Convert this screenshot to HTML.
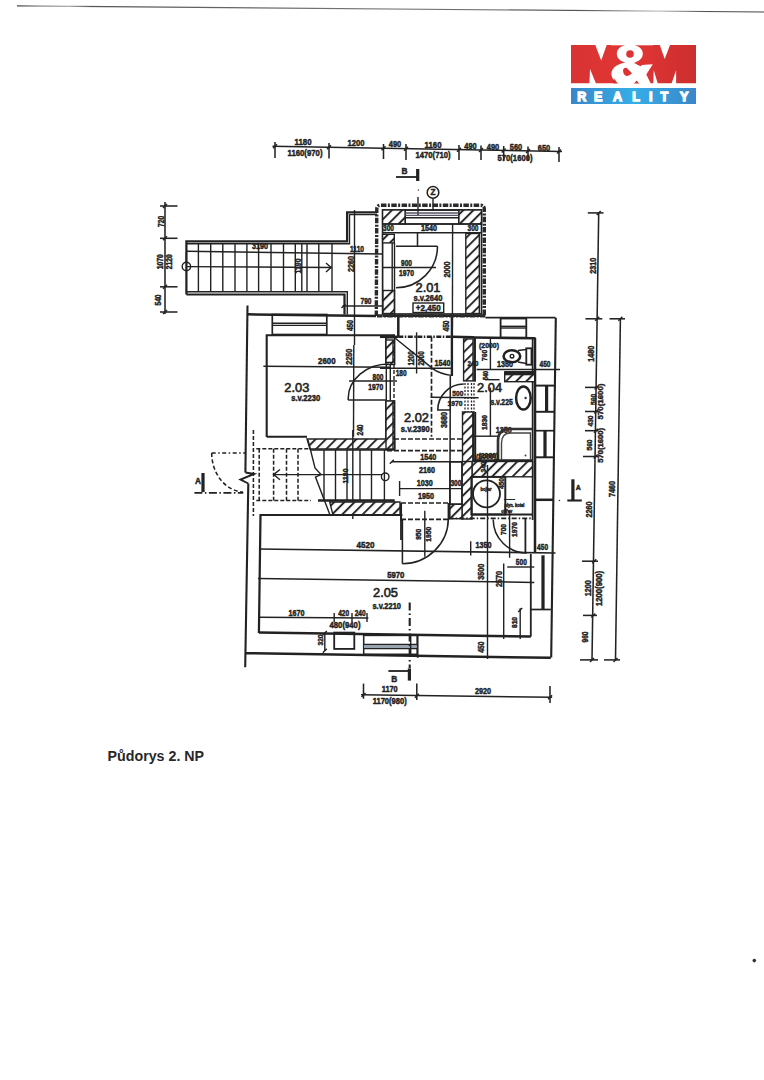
<!DOCTYPE html>
<html><head><meta charset="utf-8"><title>Půdorys 2. NP</title>
<style>
html,body{margin:0;padding:0;background:#fff;}
body{width:764px;height:1080px;overflow:hidden;position:relative;font-family:"Liberation Sans",sans-serif;}
svg{position:absolute;left:0;top:0;}
</style></head><body>
<svg width="764" height="1080" viewBox="0 0 764 1080">
<defs>
<pattern id="hatch" patternUnits="userSpaceOnUse" width="7.2" height="7.2" patternTransform="rotate(45)">
<rect width="7.2" height="7.2" fill="#fff"/>
<line x1="1" y1="0" x2="1" y2="7.2" stroke="#222" stroke-width="1.9"/>
</pattern>
<linearGradient id="red" x1="0" x2="1" y1="0" y2="0"><stop offset="0" stop-color="#d93333"/><stop offset="0.5" stop-color="#e23535"/><stop offset="1" stop-color="#cc2e2e"/></linearGradient>
<linearGradient id="blue" x1="0" x2="1" y1="0" y2="0"><stop offset="0" stop-color="#3a86c8"/><stop offset="0.5" stop-color="#35aee8"/><stop offset="1" stop-color="#3a86c8"/></linearGradient>
<linearGradient id="topline" gradientUnits="userSpaceOnUse" x1="17" y1="0" x2="764" y2="0"><stop offset="0" stop-color="#444"/><stop offset="0.03" stop-color="#888"/><stop offset="0.07" stop-color="#aaa"/><stop offset="0.1" stop-color="#555"/><stop offset="0.3" stop-color="#666"/><stop offset="0.5" stop-color="#777"/><stop offset="0.75" stop-color="#555"/><stop offset="0.86" stop-color="#bbb"/><stop offset="0.92" stop-color="#555"/><stop offset="1" stop-color="#444"/></linearGradient>
</defs>
<line x1="17" y1="5.9" x2="764" y2="12" stroke="url(#topline)" stroke-width="1.1"/>
<circle cx="754.3" cy="960.6" r="1.8" fill="#333" stroke="#222" stroke-width="0.00"/>
<text x="107.6" y="761" font-size="14" font-weight="bold" fill="#282828" textLength="96.5" lengthAdjust="spacingAndGlyphs" font-family="Liberation Sans">Půdorys 2. NP</text>
<rect x="571" y="45" width="125" height="38.5" fill="url(#red)"/>
<polygon points="595.1,44.5 606.9,44.5 601.2,60.5" fill="#fff"/>
<polygon points="589.4,84 590,69 596.2,84" fill="#fff"/>
<polygon points="659.6,44.5 670.2,44.5 664.7,58.9" fill="#fff"/>
<polygon points="653.3,84 653.7,70 657.9,84" fill="#fff"/>
<polygon points="671.4,84 676.1,70.2 676.1,84" fill="#fff"/>
<ellipse cx="629.8" cy="53.8" rx="13" ry="9.6" fill="#fff"/>
<ellipse cx="628.2" cy="74" rx="16.8" ry="11.5" fill="#fff"/>
<polygon points="634,65.5 652.8,64.3 646.3,74.4 651,84 637,84" fill="#fff"/>
<rect x="611" y="44.5" width="42" height="0.8" fill="#fff"/>
<circle cx="630" cy="54" r="3.8" fill="#dd3333"/>
<path d="M623,70 Q623.5,67.5 626.5,67.8 L632,73.3 Q629,76.5 626.5,76 Q623,75 623,70 Z" fill="#dd3333"/>
<polygon points="636.9,64.6 642.3,59.8 645.5,61.5 640.6,66.3" fill="#dd3333"/>
<polygon points="633.3,84.5 636.6,80.6 640,84.5" fill="#d83030"/>
<polygon points="612.8,84.5 614.3,78.8 618.3,84.5" fill="#d83030"/>
<rect x="570" y="83.5" width="128" height="4" fill="#fff"/>
<rect x="571" y="88" width="125" height="16" fill="url(#blue)"/>
<text x="581.7" y="101" font-size="12.5" font-weight="bold" text-anchor="middle" fill="#fff" stroke="#fff" stroke-width="1.3" font-family="Liberation Sans">R</text>
<text x="598.2" y="101" font-size="12.5" font-weight="bold" text-anchor="middle" fill="#fff" stroke="#fff" stroke-width="1.3" font-family="Liberation Sans">E</text>
<text x="617.6" y="101" font-size="12.5" font-weight="bold" text-anchor="middle" fill="#fff" stroke="#fff" stroke-width="1.3" font-family="Liberation Sans">A</text>
<text x="636" y="101" font-size="12.5" font-weight="bold" text-anchor="middle" fill="#fff" stroke="#fff" stroke-width="1.3" font-family="Liberation Sans">L</text>
<text x="650.7" y="101" font-size="12.5" font-weight="bold" text-anchor="middle" fill="#fff" stroke="#fff" stroke-width="1.3" font-family="Liberation Sans">I</text>
<text x="664.3" y="101" font-size="12.5" font-weight="bold" text-anchor="middle" fill="#fff" stroke="#fff" stroke-width="1.3" font-family="Liberation Sans">T</text>
<text x="684.2" y="101" font-size="12.5" font-weight="bold" text-anchor="middle" fill="#fff" stroke="#fff" stroke-width="1.3" font-family="Liberation Sans">Y</text>
<line x1="272.5" y1="146.3" x2="562" y2="151.5" stroke="#222" stroke-width="1.54"/>
<line x1="275" y1="142" x2="275" y2="158" stroke="#222" stroke-width="1.54"/>
<line x1="329" y1="143" x2="329" y2="158.5" stroke="#222" stroke-width="1.54"/>
<line x1="383.5" y1="144" x2="383.5" y2="159" stroke="#222" stroke-width="1.54"/>
<line x1="406" y1="144" x2="406" y2="160" stroke="#222" stroke-width="1.54"/>
<line x1="459" y1="145" x2="459" y2="160" stroke="#222" stroke-width="1.54"/>
<line x1="481" y1="145.5" x2="481" y2="160" stroke="#222" stroke-width="1.54"/>
<line x1="503.7" y1="146" x2="503.7" y2="161" stroke="#222" stroke-width="1.54"/>
<line x1="528" y1="146.5" x2="528" y2="161" stroke="#222" stroke-width="1.54"/>
<line x1="559" y1="147" x2="559" y2="162" stroke="#222" stroke-width="1.54"/>
<line x1="273.0" y1="148.3" x2="277.0" y2="144.3" stroke="#222" stroke-width="1.40"/>
<line x1="327.0" y1="149.3" x2="331.0" y2="145.3" stroke="#222" stroke-width="1.40"/>
<line x1="381.5" y1="150.3" x2="385.5" y2="146.3" stroke="#222" stroke-width="1.40"/>
<line x1="404.0" y1="150.7" x2="408.0" y2="146.7" stroke="#222" stroke-width="1.40"/>
<line x1="457.0" y1="151.7" x2="461.0" y2="147.7" stroke="#222" stroke-width="1.40"/>
<line x1="479.0" y1="152.1" x2="483.0" y2="148.1" stroke="#222" stroke-width="1.40"/>
<line x1="501.7" y1="152.5" x2="505.7" y2="148.5" stroke="#222" stroke-width="1.40"/>
<line x1="526.0" y1="152.9" x2="530.0" y2="148.9" stroke="#222" stroke-width="1.40"/>
<line x1="557.0" y1="153.4" x2="561.0" y2="149.4" stroke="#222" stroke-width="1.40"/>
<text x="303" y="144.8" font-size="8.8" font-weight="bold" text-anchor="middle" fill="#222" stroke="#222" stroke-width="0.45" font-family="Liberation Sans" textLength="17" lengthAdjust="spacingAndGlyphs">1180</text>
<text x="305" y="155.8" font-size="8.8" font-weight="bold" text-anchor="middle" fill="#222" stroke="#222" stroke-width="0.45" font-family="Liberation Sans" textLength="35" lengthAdjust="spacingAndGlyphs">1160(970)</text>
<text x="356" y="145.7" font-size="8.8" font-weight="bold" text-anchor="middle" fill="#222" stroke="#222" stroke-width="0.45" font-family="Liberation Sans" textLength="17" lengthAdjust="spacingAndGlyphs">1200</text>
<text x="395" y="147" font-size="8.8" font-weight="bold" text-anchor="middle" fill="#222" stroke="#222" stroke-width="0.45" font-family="Liberation Sans" textLength="12.5" lengthAdjust="spacingAndGlyphs">490</text>
<text x="433" y="148" font-size="8.8" font-weight="bold" text-anchor="middle" fill="#222" stroke="#222" stroke-width="0.45" font-family="Liberation Sans" textLength="17" lengthAdjust="spacingAndGlyphs">1160</text>
<text x="433" y="158" font-size="8.8" font-weight="bold" text-anchor="middle" fill="#222" stroke="#222" stroke-width="0.45" font-family="Liberation Sans" textLength="35" lengthAdjust="spacingAndGlyphs">1470(710)</text>
<text x="470.5" y="149" font-size="8.8" font-weight="bold" text-anchor="middle" fill="#222" stroke="#222" stroke-width="0.45" font-family="Liberation Sans" textLength="12.5" lengthAdjust="spacingAndGlyphs">490</text>
<text x="493" y="149.5" font-size="8.8" font-weight="bold" text-anchor="middle" fill="#222" stroke="#222" stroke-width="0.45" font-family="Liberation Sans" textLength="12.5" lengthAdjust="spacingAndGlyphs">490</text>
<text x="516" y="150" font-size="8.8" font-weight="bold" text-anchor="middle" fill="#222" stroke="#222" stroke-width="0.45" font-family="Liberation Sans" textLength="12.5" lengthAdjust="spacingAndGlyphs">560</text>
<text x="544" y="150.5" font-size="8.8" font-weight="bold" text-anchor="middle" fill="#222" stroke="#222" stroke-width="0.45" font-family="Liberation Sans" textLength="12.5" lengthAdjust="spacingAndGlyphs">650</text>
<text x="515" y="161" font-size="8.8" font-weight="bold" text-anchor="middle" fill="#222" stroke="#222" stroke-width="0.45" font-family="Liberation Sans" textLength="35" lengthAdjust="spacingAndGlyphs">570(1600)</text>
<text x="404.5" y="174" font-size="9.3" font-weight="bold" text-anchor="middle" fill="#222" stroke="#222" stroke-width="0.45" font-family="Liberation Sans" textLength="6" lengthAdjust="spacingAndGlyphs">B</text>
<line x1="396" y1="177" x2="417.5" y2="177" stroke="#222" stroke-width="1.82"/>
<line x1="417.7" y1="169" x2="417.7" y2="181" stroke="#222" stroke-width="3.22"/>
<circle cx="433" cy="192.4" r="5.8" fill="none" stroke="#222" stroke-width="1.54"/>
<text x="433" y="195.3" font-size="8.3" font-weight="bold" text-anchor="middle" fill="#222" stroke="#222" stroke-width="0.45" font-family="Liberation Sans" textLength="5" lengthAdjust="spacingAndGlyphs">Z</text>
<line x1="433" y1="198.2" x2="433" y2="211" stroke="#222" stroke-width="1.40"/>
<circle cx="418.4" cy="190" r="0.7" fill="#333" stroke="#222" stroke-width="0.00"/>
<line x1="418" y1="197" x2="418" y2="215" stroke="#222" stroke-width="1.40"/>
<path d="M376.3,316 L376.8,209 Q376.8,205.2 381,205.2 L480.3,205.2 Q484.3,205.2 484.3,209 L484.3,316" fill="none" stroke="#2a2a2a" stroke-width="3.4" stroke-dasharray="5.5 1.4 2 1.4"/>
<rect x="382.6" y="210" width="98.9" height="104" fill="none" stroke="#222" stroke-width="1.68"/>
<rect x="382.6" y="210" width="22.7" height="14" fill="url(#hatch)" stroke="#222" stroke-width="1.40"/>
<rect x="458.7" y="210" width="22.8" height="14" fill="url(#hatch)" stroke="#222" stroke-width="1.40"/>
<rect x="405.3" y="210" width="53.4" height="14" fill="none" stroke="#222" stroke-width="1.40"/>
<line x1="405.3" y1="213" x2="458.7" y2="213" stroke="#556" stroke-width="1.40"/>
<line x1="405.3" y1="215.4" x2="458.7" y2="215.4" stroke="#556" stroke-width="1.40"/>
<line x1="405.3" y1="217.8" x2="458.7" y2="217.8" stroke="#222" stroke-width="1.40"/>
<line x1="382.6" y1="224" x2="481.5" y2="224" stroke="#222" stroke-width="1.54"/>
<line x1="382.6" y1="232.7" x2="481.5" y2="232.7" stroke="#222" stroke-width="1.40"/>
<text x="388.5" y="231" font-size="8.3" font-weight="bold" text-anchor="middle" fill="#222" stroke="#222" stroke-width="0.45" font-family="Liberation Sans" textLength="11" lengthAdjust="spacingAndGlyphs">300</text>
<text x="429" y="231" font-size="8.3" font-weight="bold" text-anchor="middle" fill="#222" stroke="#222" stroke-width="0.45" font-family="Liberation Sans" textLength="16" lengthAdjust="spacingAndGlyphs">1540</text>
<text x="473" y="231" font-size="8.3" font-weight="bold" text-anchor="middle" fill="#222" stroke="#222" stroke-width="0.45" font-family="Liberation Sans" textLength="11" lengthAdjust="spacingAndGlyphs">300</text>
<rect x="465.8" y="233.5" width="13.5" height="80" fill="url(#hatch)" stroke="#222" stroke-width="1.40"/>
<rect x="382.6" y="234.3" width="11.7" height="8.6" fill="url(#hatch)" stroke="#222" stroke-width="1.40"/>
<rect x="383" y="290.5" width="11.5" height="23" fill="url(#hatch)" stroke="#222" stroke-width="1.40"/>
<line x1="394.5" y1="242.9" x2="394.5" y2="313.6" stroke="#222" stroke-width="1.40"/>
<line x1="392.2" y1="242.9" x2="392.2" y2="290.5" stroke="#222" stroke-width="1.40"/>
<line x1="417.5" y1="232.7" x2="417.5" y2="246" stroke="#222" stroke-width="1.54"/>
<line x1="396" y1="246.3" x2="437.5" y2="246.3" stroke="#222" stroke-width="1.54"/>
<path d="M437.5,246.3 A41.5,41.5 0 0 1 396,287.8" fill="none" stroke="#222" stroke-width="1.54"/>
<line x1="382.6" y1="267.5" x2="436" y2="267.5" stroke="#222" stroke-width="1.40"/>
<text x="406.5" y="265.5" font-size="8.3" font-weight="bold" text-anchor="middle" fill="#222" stroke="#222" stroke-width="0.45" font-family="Liberation Sans" textLength="11" lengthAdjust="spacingAndGlyphs">900</text>
<text x="406.5" y="275.5" font-size="8.3" font-weight="bold" text-anchor="middle" fill="#222" stroke="#222" stroke-width="0.45" font-family="Liberation Sans" textLength="15" lengthAdjust="spacingAndGlyphs">1970</text>
<line x1="452.6" y1="224" x2="452.4" y2="330" stroke="#222" stroke-width="1.40"/>
<text x="0" y="0" font-size="8.3" font-weight="bold" text-anchor="middle" dominant-baseline="central" fill="#222" stroke="#222" stroke-width="0.45" font-family="Liberation Sans" textLength="16" lengthAdjust="spacingAndGlyphs" transform="translate(446.8 269.6) rotate(-90)">2000</text>
<text x="428" y="291.5" font-size="12.8" font-weight="normal" text-anchor="middle" fill="#222" stroke="#222" stroke-width="0.6" font-family="Liberation Sans" textLength="25" lengthAdjust="spacingAndGlyphs">2.01</text>
<text x="428" y="300.5" font-size="8.3" font-weight="bold" text-anchor="middle" fill="#222" stroke="#222" stroke-width="0.45" font-family="Liberation Sans" textLength="29" lengthAdjust="spacingAndGlyphs">s.v.2640</text>
<rect x="413" y="303" width="30.7" height="9.5" fill="none" stroke="#222" stroke-width="1.40"/>
<text x="428.3" y="311" font-size="8.8" font-weight="bold" text-anchor="middle" fill="#222" stroke="#222" stroke-width="0.45" font-family="Liberation Sans" textLength="25" lengthAdjust="spacingAndGlyphs">+2,450</text>
<line x1="165" y1="202" x2="165" y2="314" stroke="#222" stroke-width="1.54"/>
<line x1="160" y1="206" x2="177.5" y2="206" stroke="#222" stroke-width="1.54"/>
<line x1="163.0" y1="208.0" x2="167.0" y2="204.0" stroke="#222" stroke-width="1.40"/>
<line x1="160" y1="238.3" x2="177.5" y2="238.3" stroke="#222" stroke-width="1.54"/>
<line x1="163.0" y1="240.3" x2="167.0" y2="236.3" stroke="#222" stroke-width="1.40"/>
<line x1="160" y1="286.8" x2="177.5" y2="286.8" stroke="#222" stroke-width="1.54"/>
<line x1="163.0" y1="288.8" x2="167.0" y2="284.8" stroke="#222" stroke-width="1.40"/>
<line x1="160" y1="312" x2="177.5" y2="312" stroke="#222" stroke-width="1.54"/>
<line x1="163.0" y1="314.0" x2="167.0" y2="310.0" stroke="#222" stroke-width="1.40"/>
<text x="0" y="0" font-size="8.3" font-weight="bold" text-anchor="middle" dominant-baseline="central" fill="#222" stroke="#222" stroke-width="0.45" font-family="Liberation Sans" textLength="11" lengthAdjust="spacingAndGlyphs" transform="translate(160.5 221.4) rotate(-90)">720</text>
<text x="0" y="0" font-size="8.3" font-weight="bold" text-anchor="middle" dominant-baseline="central" fill="#222" stroke="#222" stroke-width="0.45" font-family="Liberation Sans" textLength="15" lengthAdjust="spacingAndGlyphs" transform="translate(160.2 261.8) rotate(-90)">1070</text>
<text x="0" y="0" font-size="8.3" font-weight="bold" text-anchor="middle" dominant-baseline="central" fill="#222" stroke="#222" stroke-width="0.45" font-family="Liberation Sans" textLength="15" lengthAdjust="spacingAndGlyphs" transform="translate(169 261.8) rotate(-90)">2120</text>
<text x="0" y="0" font-size="8.3" font-weight="bold" text-anchor="middle" dominant-baseline="central" fill="#222" stroke="#222" stroke-width="0.45" font-family="Liberation Sans" textLength="11" lengthAdjust="spacingAndGlyphs" transform="translate(158 300) rotate(-90)">540</text>
<polyline points="186.4,294.5 186.4,241.3 347.1,241.3 347.1,212.3 377,212.3" fill="none" stroke="#222" stroke-width="2.24"/>
<polyline points="186.4,243.7 349.5,243.7 349.5,214.6 377,214.6" fill="none" stroke="#222" stroke-width="1.40"/>
<polyline points="186.4,294.5 344.5,294.5 344.5,314.5" fill="none" stroke="#222" stroke-width="2.24"/>
<polyline points="186.4,291.8 347.3,291.8 347.3,314.5" fill="none" stroke="#222" stroke-width="1.40"/>
<line x1="186.4" y1="251.3" x2="382.6" y2="254" stroke="#222" stroke-width="1.40"/>
<line x1="198.4" y1="243.7" x2="198.4" y2="291.8" stroke="#222" stroke-width="1.40"/>
<line x1="210.7" y1="243.7" x2="210.7" y2="291.8" stroke="#222" stroke-width="1.40"/>
<line x1="222.8" y1="243.7" x2="222.8" y2="291.8" stroke="#222" stroke-width="1.40"/>
<line x1="235" y1="243.7" x2="235" y2="291.8" stroke="#222" stroke-width="1.40"/>
<line x1="246.9" y1="243.7" x2="246.9" y2="291.8" stroke="#222" stroke-width="1.40"/>
<line x1="258.6" y1="243.7" x2="258.6" y2="291.8" stroke="#222" stroke-width="1.40"/>
<line x1="271" y1="243.7" x2="271" y2="291.8" stroke="#222" stroke-width="1.40"/>
<line x1="283.5" y1="243.7" x2="283.5" y2="291.8" stroke="#222" stroke-width="1.40"/>
<line x1="295.3" y1="243.7" x2="295.3" y2="291.8" stroke="#222" stroke-width="1.40"/>
<line x1="301.8" y1="243.7" x2="301.8" y2="291.8" stroke="#222" stroke-width="1.40"/>
<line x1="307" y1="243.7" x2="307" y2="291.8" stroke="#222" stroke-width="1.40"/>
<line x1="318.8" y1="243.7" x2="318.8" y2="291.8" stroke="#222" stroke-width="1.40"/>
<line x1="332" y1="243.7" x2="332" y2="291.8" stroke="#222" stroke-width="1.40"/>
<line x1="186.4" y1="266.6" x2="332" y2="267.5" stroke="#222" stroke-width="1.40"/>
<polyline points="326,263 331,267.5 326,272" fill="none" stroke="#222" stroke-width="1.40"/>
<circle cx="186.4" cy="266.5" r="4.2" fill="none" stroke="#222" stroke-width="1.40"/>
<line x1="186.4" y1="252" x2="186.4" y2="262" stroke="#222" stroke-width="1.40"/>
<text x="260" y="249" font-size="8.3" font-weight="bold" text-anchor="middle" fill="#222" stroke="#222" stroke-width="0.45" font-family="Liberation Sans" textLength="16" lengthAdjust="spacingAndGlyphs">3190</text>
<text x="0" y="0" font-size="8.3" font-weight="bold" text-anchor="middle" dominant-baseline="central" fill="#222" stroke="#222" stroke-width="0.45" font-family="Liberation Sans" textLength="15" lengthAdjust="spacingAndGlyphs" transform="translate(298 266) rotate(-90)">1190</text>
<line x1="354.5" y1="210" x2="354.5" y2="345" stroke="#222" stroke-width="1.40"/>
<text x="0" y="0" font-size="8.3" font-weight="bold" text-anchor="middle" dominant-baseline="central" fill="#222" stroke="#222" stroke-width="0.45" font-family="Liberation Sans" textLength="16" lengthAdjust="spacingAndGlyphs" transform="translate(351 264) rotate(-90)">2260</text>
<text x="357" y="252.3" font-size="8.3" font-weight="bold" text-anchor="middle" fill="#222" stroke="#222" stroke-width="0.45" font-family="Liberation Sans" textLength="14" lengthAdjust="spacingAndGlyphs">1110</text>
<line x1="342.6" y1="306" x2="382.6" y2="306" stroke="#222" stroke-width="1.40"/>
<text x="366" y="304" font-size="8.3" font-weight="bold" text-anchor="middle" fill="#222" stroke="#222" stroke-width="0.45" font-family="Liberation Sans" textLength="11" lengthAdjust="spacingAndGlyphs">790</text>
<line x1="341.5" y1="308.0" x2="345.5" y2="304.0" stroke="#222" stroke-width="1.40"/>
<line x1="247.5" y1="305.6" x2="245.4" y2="472.5" stroke="#222" stroke-width="2.10"/>
<line x1="248.3" y1="483.5" x2="245.2" y2="667.2" stroke="#222" stroke-width="2.10"/>
<line x1="247.4" y1="314.3" x2="376" y2="316" stroke="#222" stroke-width="2.52"/>
<rect x="272.3" y="314.5" width="54.5" height="20" fill="none" stroke="#222" stroke-width="1.68"/>
<line x1="272.8" y1="323.3" x2="326.8" y2="323.3" stroke="#222" stroke-width="1.40"/>
<line x1="272.8" y1="325.4" x2="326.8" y2="325.4" stroke="#222" stroke-width="1.40"/>
<polyline points="266.7,437 266.7,335.2 395,335.2" fill="none" stroke="#222" stroke-width="2.10"/>
<line x1="266.7" y1="436.8" x2="307" y2="436.8" stroke="#222" stroke-width="2.10"/>
<line x1="353.8" y1="345" x2="353.5" y2="436.8" stroke="#222" stroke-width="1.40"/>
<line x1="263.4" y1="366.3" x2="390" y2="367.3" stroke="#222" stroke-width="1.40"/>
<text x="326.8" y="364.2" font-size="8.3" font-weight="bold" text-anchor="middle" fill="#222" stroke="#222" stroke-width="0.45" font-family="Liberation Sans" textLength="17.5" lengthAdjust="spacingAndGlyphs">2600</text>
<text x="0" y="0" font-size="8.3" font-weight="bold" text-anchor="middle" dominant-baseline="central" fill="#222" stroke="#222" stroke-width="0.45" font-family="Liberation Sans" textLength="11" lengthAdjust="spacingAndGlyphs" transform="translate(350 325.6) rotate(-90)">450</text>
<text x="0" y="0" font-size="8.3" font-weight="bold" text-anchor="middle" dominant-baseline="central" fill="#222" stroke="#222" stroke-width="0.45" font-family="Liberation Sans" textLength="16" lengthAdjust="spacingAndGlyphs" transform="translate(349 356.7) rotate(-90)">2250</text>
<text x="0" y="0" font-size="8.3" font-weight="bold" text-anchor="middle" dominant-baseline="central" fill="#222" stroke="#222" stroke-width="0.45" font-family="Liberation Sans" textLength="11" lengthAdjust="spacingAndGlyphs" transform="translate(359.5 430) rotate(-90)">240</text>
<rect x="385.8" y="337.8" width="8.9" height="26.7" fill="url(#hatch)" stroke="#222" stroke-width="1.40"/>
<rect x="385.8" y="401" width="8.9" height="48" fill="url(#hatch)" stroke="#222" stroke-width="1.40"/>
<path d="M388.7,364 A40.5,34.5 0 0 0 348.2,398.5 L348.2,400" fill="none" stroke="#222" stroke-width="1.54"/>
<line x1="348.2" y1="400" x2="386.3" y2="400" stroke="#222" stroke-width="1.68"/>
<line x1="386.3" y1="364" x2="386.3" y2="400" stroke="#222" stroke-width="1.40"/>
<line x1="390.3" y1="364" x2="390.3" y2="400" stroke="#222" stroke-width="1.40"/>
<line x1="349" y1="381" x2="397" y2="381" stroke="#222" stroke-width="1.40"/>
<text x="378" y="380" font-size="8.3" font-weight="bold" text-anchor="middle" fill="#222" stroke="#222" stroke-width="0.45" font-family="Liberation Sans" textLength="11" lengthAdjust="spacingAndGlyphs">800</text>
<text x="375.7" y="390" font-size="8.3" font-weight="bold" text-anchor="middle" fill="#222" stroke="#222" stroke-width="0.45" font-family="Liberation Sans" textLength="15" lengthAdjust="spacingAndGlyphs">1970</text>
<text x="296.8" y="392" font-size="12.8" font-weight="normal" text-anchor="middle" fill="#222" stroke="#222" stroke-width="0.6" font-family="Liberation Sans" textLength="25" lengthAdjust="spacingAndGlyphs">2.03</text>
<text x="305.7" y="401" font-size="8.3" font-weight="bold" text-anchor="middle" fill="#222" stroke="#222" stroke-width="0.45" font-family="Liberation Sans" textLength="29" lengthAdjust="spacingAndGlyphs">s.v.2230</text>
<polygon points="307,439 394.7,439 394.7,449 310,449" fill="url(#hatch)" stroke="#222" stroke-width="1.40"/>
<line x1="382.6" y1="316" x2="485.4" y2="316" stroke="#222" stroke-width="2.10"/>
<line x1="380" y1="336.8" x2="398.3" y2="336.8" stroke="#222" stroke-width="2.52"/>
<line x1="451.7" y1="336.8" x2="474" y2="337.3" stroke="#222" stroke-width="2.52"/>
<line x1="474" y1="337.5" x2="535.5" y2="338.3" stroke="#222" stroke-width="2.52"/>
<line x1="398.3" y1="317" x2="398.3" y2="336.8" stroke="#222" stroke-width="2.52"/>
<line x1="451.9" y1="316" x2="451.9" y2="376" stroke="#222" stroke-width="2.38"/>
<text x="0" y="0" font-size="8.3" font-weight="bold" text-anchor="middle" dominant-baseline="central" fill="#222" stroke="#222" stroke-width="0.45" font-family="Liberation Sans" textLength="11" lengthAdjust="spacingAndGlyphs" transform="translate(446 326) rotate(-90)">450</text>
<rect x="386" y="340" width="7" height="22.4" fill="url(#hatch)" stroke="#222" stroke-width="1.40"/>
<rect x="386" y="401" width="7" height="48" fill="url(#hatch)" stroke="#222" stroke-width="1.40"/>
<line x1="398.3" y1="336.8" x2="451.7" y2="336.8" stroke="#222" stroke-width="2.52" stroke-dasharray="5 1.5 1.5 1.5"/>
<line x1="431.5" y1="336.8" x2="431.5" y2="436.7" stroke="#222" stroke-width="1.68" stroke-dasharray="5 2"/>
<line x1="394" y1="439" x2="462.5" y2="439" stroke="#222" stroke-width="1.68" stroke-dasharray="5 2"/>
<line x1="394" y1="340" x2="394" y2="439" stroke="#222" stroke-width="1.40" stroke-dasharray="4 2"/>
<line x1="395" y1="338" x2="431.5" y2="367.6" stroke="#222" stroke-width="1.40"/>
<line x1="416.6" y1="332.3" x2="416.6" y2="373.5" stroke="#222" stroke-width="1.40"/>
<text x="0" y="0" font-size="8.3" font-weight="bold" text-anchor="middle" dominant-baseline="central" fill="#222" stroke="#222" stroke-width="0.45" font-family="Liberation Sans" textLength="14.4" lengthAdjust="spacingAndGlyphs" transform="translate(410.8 358.4) rotate(-90)">1200</text>
<text x="0" y="0" font-size="8.3" font-weight="bold" text-anchor="middle" dominant-baseline="central" fill="#222" stroke="#222" stroke-width="0.45" font-family="Liberation Sans" textLength="14.4" lengthAdjust="spacingAndGlyphs" transform="translate(421.2 358.4) rotate(-90)">2000</text>
<path d="M431.5,368.2 Q441,374.5 451.3,375.4" fill="none" stroke="#222" stroke-width="1.40"/>
<line x1="380" y1="368.2" x2="452" y2="368.2" stroke="#222" stroke-width="1.40"/>
<text x="442.4" y="366" font-size="8.3" font-weight="bold" text-anchor="middle" fill="#222" stroke="#222" stroke-width="0.45" font-family="Liberation Sans" textLength="16" lengthAdjust="spacingAndGlyphs">1540</text>
<text x="401.2" y="375.5" font-size="8.3" font-weight="bold" text-anchor="middle" fill="#222" stroke="#222" stroke-width="0.45" font-family="Liberation Sans" textLength="11" lengthAdjust="spacingAndGlyphs">180</text>
<line x1="450.3" y1="376" x2="449.9" y2="519" stroke="#222" stroke-width="1.54"/>
<text x="0" y="0" font-size="8.3" font-weight="bold" text-anchor="middle" dominant-baseline="central" fill="#222" stroke="#222" stroke-width="0.45" font-family="Liberation Sans" textLength="16" lengthAdjust="spacingAndGlyphs" transform="translate(444 420) rotate(-90)">3680</text>
<text x="416.5" y="421.5" font-size="12.8" font-weight="normal" text-anchor="middle" fill="#222" stroke="#222" stroke-width="0.6" font-family="Liberation Sans" textLength="25" lengthAdjust="spacingAndGlyphs">2.02</text>
<text x="415.3" y="431.5" font-size="8.3" font-weight="bold" text-anchor="middle" fill="#222" stroke="#222" stroke-width="0.45" font-family="Liberation Sans" textLength="29" lengthAdjust="spacingAndGlyphs">s.v.2390</text>
<rect x="463.6" y="338.9" width="9.4" height="42" fill="url(#hatch)" stroke="#222" stroke-width="1.40"/>
<rect x="462.5" y="412" width="10.5" height="50" fill="url(#hatch)" stroke="#222" stroke-width="1.40"/>
<line x1="473.6" y1="412" x2="473.6" y2="461.5" stroke="#222" stroke-width="2.52"/>
<line x1="475.5" y1="412" x2="475.5" y2="461.5" stroke="#222" stroke-width="1.40"/>
<path d="M463.8,384 A26,26 0 0 0 437.8,410 L450,410" fill="none" stroke="#222" stroke-width="1.54"/>
<line x1="430.7" y1="397.3" x2="478.6" y2="397.8" stroke="#222" stroke-width="1.40"/>
<text x="457.8" y="395.5" font-size="7.8" font-weight="bold" text-anchor="middle" fill="#222" stroke="#222" stroke-width="0.45" font-family="Liberation Sans" textLength="11" lengthAdjust="spacingAndGlyphs">500</text>
<text x="455" y="405.5" font-size="7.8" font-weight="bold" text-anchor="middle" fill="#222" stroke="#222" stroke-width="0.45" font-family="Liberation Sans" textLength="15" lengthAdjust="spacingAndGlyphs">1970</text>
<line x1="465" y1="383" x2="465" y2="412" stroke="#222" stroke-width="1.26" stroke-dasharray="2 1.5"/>
<line x1="468" y1="383" x2="468" y2="412" stroke="#222" stroke-width="1.26" stroke-dasharray="2 1.5"/>
<line x1="471.5" y1="383" x2="471.5" y2="412" stroke="#222" stroke-width="1.26" stroke-dasharray="2 1.5"/>
<line x1="474" y1="383" x2="474" y2="412" stroke="#222" stroke-width="1.26" stroke-dasharray="2 1.5"/>
<line x1="532.6" y1="338" x2="532.6" y2="520" stroke="#222" stroke-width="1.68"/>
<line x1="535" y1="338" x2="535" y2="552" stroke="#222" stroke-width="2.52"/>
<line x1="476.6" y1="369.5" x2="560" y2="369.5" stroke="#222" stroke-width="1.40"/>
<text x="489" y="348" font-size="7.8" font-weight="bold" text-anchor="middle" fill="#222" stroke="#222" stroke-width="0.45" font-family="Liberation Sans" textLength="20" lengthAdjust="spacingAndGlyphs">(2000)</text>
<text x="0" y="0" font-size="7.8" font-weight="bold" text-anchor="middle" dominant-baseline="central" fill="#222" stroke="#222" stroke-width="0.45" font-family="Liberation Sans" textLength="11" lengthAdjust="spacingAndGlyphs" transform="translate(484.9 355.4) rotate(-90)">760</text>
<text x="473" y="366" font-size="7.8" font-weight="bold" text-anchor="middle" fill="#222" stroke="#222" stroke-width="0.45" font-family="Liberation Sans" textLength="11" lengthAdjust="spacingAndGlyphs">240</text>
<text x="505" y="367" font-size="8.3" font-weight="bold" text-anchor="middle" fill="#222" stroke="#222" stroke-width="0.45" font-family="Liberation Sans" textLength="16" lengthAdjust="spacingAndGlyphs">1350</text>
<text x="545" y="367" font-size="8.3" font-weight="bold" text-anchor="middle" fill="#222" stroke="#222" stroke-width="0.45" font-family="Liberation Sans" textLength="11" lengthAdjust="spacingAndGlyphs">450</text>
<ellipse cx="511.9" cy="356.2" rx="8.3" ry="6" fill="none" stroke="#222" stroke-width="2.6"/>
<circle cx="512" cy="356.2" r="1.8" fill="none" stroke="#222" stroke-width="1.40"/>
<line x1="518" y1="350.5" x2="526.3" y2="349.5" stroke="#222" stroke-width="1.40"/>
<line x1="518" y1="362" x2="526.3" y2="363.5" stroke="#222" stroke-width="1.40"/>
<rect x="526.3" y="348.3" width="5.2" height="16.4" fill="none" stroke="#222" stroke-width="1.82"/>
<rect x="504.7" y="371.9" width="30" height="9.8" fill="url(#hatch)" stroke="#222" stroke-width="1.40"/>
<line x1="504.7" y1="373.2" x2="534.8" y2="373.2" stroke="#222" stroke-width="4.20"/>
<text x="489.6" y="392" font-size="12.8" font-weight="normal" text-anchor="middle" fill="#222" stroke="#222" stroke-width="0.6" font-family="Liberation Sans" textLength="25" lengthAdjust="spacingAndGlyphs">2.04</text>
<text x="501.6" y="404.6" font-size="8.3" font-weight="bold" text-anchor="middle" fill="#222" stroke="#222" stroke-width="0.45" font-family="Liberation Sans" textLength="22.4" lengthAdjust="spacingAndGlyphs">s.v.225</text>
<ellipse cx="523.4" cy="398" rx="7.3" ry="11.5" fill="none" stroke="#222" stroke-width="2.5"/>
<circle cx="525.6" cy="398" r="1.2" fill="#333" stroke="#222" stroke-width="0.00"/>
<text x="0" y="0" font-size="7.8" font-weight="bold" text-anchor="middle" dominant-baseline="central" fill="#222" stroke="#222" stroke-width="0.45" font-family="Liberation Sans" textLength="15" lengthAdjust="spacingAndGlyphs" transform="translate(484.9 422.5) rotate(-90)">1830</text>
<text x="503.7" y="433" font-size="8.3" font-weight="bold" text-anchor="middle" fill="#222" stroke="#222" stroke-width="0.45" font-family="Liberation Sans" textLength="16" lengthAdjust="spacingAndGlyphs">1350</text>
<path d="M498,461 L498,441 Q498,429 510,429 L532,429" fill="none" stroke="#333" stroke-width="2.66"/>
<path d="M501.5,459.5 L501.5,443 Q501.5,433 511,433 L530.5,433 L530.5,459.5" fill="none" stroke="#444" stroke-width="1.40"/>
<line x1="473.3" y1="436.2" x2="498" y2="436.2" stroke="#222" stroke-width="1.40"/>
<line x1="473.3" y1="460.6" x2="532.5" y2="460.6" stroke="#222" stroke-width="2.52"/>
<circle cx="525.5" cy="455.5" r="0.9" fill="#333" stroke="#222" stroke-width="0.00"/>
<text x="488.4" y="458" font-size="7.8" font-weight="bold" text-anchor="middle" fill="#222" stroke="#222" stroke-width="0.45" font-family="Liberation Sans" textLength="20" lengthAdjust="spacingAndGlyphs">(2000)</text>
<line x1="377" y1="315.8" x2="485" y2="315.8" stroke="#2a2a2a" stroke-width="3.2" stroke-dasharray="5.5 1.4 2 1.4"/>
<line x1="474.7" y1="338" x2="474.7" y2="381.7" stroke="#222" stroke-width="2.52"/>
<line x1="490.4" y1="338" x2="490.4" y2="369.3" stroke="#222" stroke-width="1.40"/>
<line x1="490.4" y1="387.6" x2="490.4" y2="436.2" stroke="#222" stroke-width="1.40"/>
<line x1="485" y1="379.7" x2="499.6" y2="379.7" stroke="#222" stroke-width="1.40"/>
<text x="0" y="0" font-size="7.3" font-weight="bold" text-anchor="middle" dominant-baseline="central" fill="#222" stroke="#222" stroke-width="0.45" font-family="Liberation Sans" textLength="9" lengthAdjust="spacingAndGlyphs" transform="translate(485.5 375.5) rotate(-90)">540</text>
<rect x="500.6" y="318.5" width="25.7" height="19.2" fill="none" stroke="#222" stroke-width="1.82"/>
<line x1="500.6" y1="326.3" x2="526.3" y2="326.3" stroke="#222" stroke-width="1.40"/>
<line x1="500.6" y1="328" x2="526.3" y2="328" stroke="#222" stroke-width="1.40"/>
<line x1="485.4" y1="317.7" x2="555.5" y2="317.7" stroke="#222" stroke-width="1.68"/>
<text x="197.9" y="483.5" font-size="9.3" font-weight="bold" text-anchor="middle" fill="#222" stroke="#222" stroke-width="0.45" font-family="Liberation Sans" textLength="6" lengthAdjust="spacingAndGlyphs">A</text>
<line x1="203" y1="473" x2="203" y2="492" stroke="#222" stroke-width="3.22"/>
<line x1="194.4" y1="492.8" x2="243.3" y2="492.8" stroke="#222" stroke-width="1.82" stroke-dasharray="8 2.5 1.5 2.5"/>
<line x1="211.7" y1="453" x2="246" y2="453" stroke="#222" stroke-width="1.54" stroke-dasharray="4 2.5 1.5 2.5"/>
<path d="M211.7,453 A33,39 0 0 0 243,492" fill="none" stroke="#222" stroke-width="1.54" stroke-dasharray="4 2.5"/>
<polyline points="245.4,472.5 254,474 240.5,479.5 248.3,483.5" fill="none" stroke="#222" stroke-width="1.96"/>
<line x1="253.4" y1="430" x2="253.4" y2="516" stroke="#222" stroke-width="1.54" stroke-dasharray="4 2"/>
<line x1="256.3" y1="448.7" x2="311" y2="448.7" stroke="#222" stroke-width="1.54" stroke-dasharray="4 2"/>
<line x1="256.3" y1="500.5" x2="311" y2="500.5" stroke="#222" stroke-width="1.54" stroke-dasharray="4 2"/>
<line x1="259.2" y1="448.7" x2="259.2" y2="500.5" stroke="#222" stroke-width="1.54" stroke-dasharray="4 2"/>
<line x1="273.6" y1="448.7" x2="273.6" y2="500.5" stroke="#222" stroke-width="1.54" stroke-dasharray="4 2"/>
<line x1="286.5" y1="448.7" x2="286.5" y2="500.5" stroke="#222" stroke-width="1.54" stroke-dasharray="4 2"/>
<line x1="298" y1="448.7" x2="298" y2="500.5" stroke="#222" stroke-width="1.54" stroke-dasharray="4 2"/>
<line x1="273.6" y1="474.6" x2="324" y2="474.6" stroke="#222" stroke-width="1.40"/>
<polyline points="280,469.5 273.6,474.6 280,479.7" fill="none" stroke="#222" stroke-width="1.40"/>
<polyline points="308,440 315,468 321,474.6 315.5,477 330,515" fill="none" stroke="#222" stroke-width="1.40"/>
<line x1="324" y1="450" x2="324" y2="500.5" stroke="#222" stroke-width="1.40"/>
<line x1="335.5" y1="450" x2="335.5" y2="500.5" stroke="#222" stroke-width="1.40"/>
<line x1="347" y1="450" x2="347" y2="500.5" stroke="#222" stroke-width="1.40"/>
<line x1="360" y1="450" x2="360" y2="500.5" stroke="#222" stroke-width="1.40"/>
<line x1="371.5" y1="450" x2="371.5" y2="500.5" stroke="#222" stroke-width="1.40"/>
<line x1="384.4" y1="450" x2="384.4" y2="500.5" stroke="#222" stroke-width="1.40"/>
<line x1="311" y1="450" x2="394.7" y2="450" stroke="#222" stroke-width="1.40"/>
<line x1="318" y1="500.5" x2="394.7" y2="500.5" stroke="#222" stroke-width="2.52"/>
<line x1="324" y1="474.6" x2="382" y2="474.6" stroke="#222" stroke-width="1.40"/>
<text x="0" y="0" font-size="7.8" font-weight="bold" text-anchor="middle" dominant-baseline="central" fill="#222" stroke="#222" stroke-width="0.45" font-family="Liberation Sans" textLength="15" lengthAdjust="spacingAndGlyphs" transform="translate(345.6 476) rotate(-90)">1190</text>
<text x="0" y="0" font-size="7.8" font-weight="bold" text-anchor="middle" dominant-baseline="central" fill="#222" stroke="#222" stroke-width="0.45" font-family="Liberation Sans" textLength="11" lengthAdjust="spacingAndGlyphs" transform="translate(343 509.2) rotate(-90)">320</text>
<line x1="352.8" y1="430" x2="352.8" y2="519" stroke="#222" stroke-width="1.40"/>
<polygon points="329.7,502 400,502 400,515 333,515" fill="url(#hatch)" stroke="#222" stroke-width="1.40"/>
<line x1="387" y1="450.6" x2="462.5" y2="450.6" stroke="#222" stroke-width="1.68" stroke-dasharray="5 2"/>
<line x1="391.8" y1="461.8" x2="463" y2="461.8" stroke="#222" stroke-width="1.40"/>
<line x1="389.8" y1="463.8" x2="393.8" y2="459.8" stroke="#222" stroke-width="1.40"/>
<text x="428.3" y="459.5" font-size="8.3" font-weight="bold" text-anchor="middle" fill="#222" stroke="#222" stroke-width="0.45" font-family="Liberation Sans" textLength="16" lengthAdjust="spacingAndGlyphs">1540</text>
<text x="427" y="472.5" font-size="8.3" font-weight="bold" text-anchor="middle" fill="#222" stroke="#222" stroke-width="0.45" font-family="Liberation Sans" textLength="16" lengthAdjust="spacingAndGlyphs">2160</text>
<line x1="399.6" y1="488.6" x2="466.4" y2="488.6" stroke="#222" stroke-width="1.40"/>
<line x1="399.6" y1="481" x2="399.6" y2="496" stroke="#222" stroke-width="1.40"/>
<text x="424.8" y="485.5" font-size="8.3" font-weight="bold" text-anchor="middle" fill="#222" stroke="#222" stroke-width="0.45" font-family="Liberation Sans" textLength="16" lengthAdjust="spacingAndGlyphs">1030</text>
<text x="455.9" y="486" font-size="8.3" font-weight="bold" text-anchor="middle" fill="#222" stroke="#222" stroke-width="0.45" font-family="Liberation Sans" textLength="11" lengthAdjust="spacingAndGlyphs">300</text>
<text x="426" y="498.5" font-size="8.3" font-weight="bold" text-anchor="middle" fill="#222" stroke="#222" stroke-width="0.45" font-family="Liberation Sans" textLength="16" lengthAdjust="spacingAndGlyphs">1950</text>
<line x1="401" y1="503" x2="448.7" y2="503" stroke="#222" stroke-width="1.68" stroke-dasharray="5 2"/>
<circle cx="385.2" cy="476.8" r="3.8" fill="none" stroke="#222" stroke-width="1.40"/>
<line x1="401.2" y1="503" x2="401.2" y2="521" stroke="#222" stroke-width="1.68"/>
<line x1="401" y1="519.4" x2="448.7" y2="519.4" stroke="#222" stroke-width="1.82" stroke-dasharray="5 2"/>
<line x1="448.7" y1="503" x2="448.7" y2="519.4" stroke="#222" stroke-width="2.24"/>
<line x1="401" y1="503" x2="401" y2="540" stroke="#222" stroke-width="1.82"/>
<line x1="402.4" y1="519" x2="402.4" y2="563.7" stroke="#222" stroke-width="1.54"/>
<path d="M448.3,519 A46,45 0 0 1 402.4,563.7" fill="none" stroke="#222" stroke-width="1.54"/>
<text x="0" y="0" font-size="7.8" font-weight="bold" text-anchor="middle" dominant-baseline="central" fill="#222" stroke="#222" stroke-width="0.45" font-family="Liberation Sans" textLength="11" lengthAdjust="spacingAndGlyphs" transform="translate(418.9 534.3) rotate(-90)">950</text>
<text x="0" y="0" font-size="7.8" font-weight="bold" text-anchor="middle" dominant-baseline="central" fill="#222" stroke="#222" stroke-width="0.45" font-family="Liberation Sans" textLength="15" lengthAdjust="spacingAndGlyphs" transform="translate(428.3 534.3) rotate(-90)">1950</text>
<rect x="472" y="461.5" width="60.5" height="15.3" fill="url(#hatch)" stroke="#222" stroke-width="1.40"/>
<rect x="462" y="461.5" width="10" height="57.5" fill="url(#hatch)" stroke="#222" stroke-width="1.40"/>
<rect x="449.9" y="504.2" width="12.1" height="14.5" fill="url(#hatch)" stroke="#222" stroke-width="1.40"/>
<rect x="449.9" y="461.8" width="12.1" height="42.4" fill="none" stroke="#222" stroke-width="1.54"/>
<rect x="471.4" y="476.9" width="33.9" height="37.6" fill="none" stroke="#222" stroke-width="1.96"/>
<circle cx="486.5" cy="493.8" r="13.5" fill="none" stroke="#222" stroke-width="1.82"/>
<text x="486" y="491" font-size="5.3" font-weight="bold" text-anchor="middle" fill="#222" stroke="#222" stroke-width="0.45" font-family="Liberation Sans" textLength="11" lengthAdjust="spacingAndGlyphs">bojler</text>
<text x="486" y="458.5" font-size="7.8" font-weight="bold" text-anchor="middle" fill="#222" stroke="#222" stroke-width="0.45" font-family="Liberation Sans" textLength="20" lengthAdjust="spacingAndGlyphs">(2000)</text>
<text x="0" y="0" font-size="7.8" font-weight="bold" text-anchor="middle" dominant-baseline="central" fill="#222" stroke="#222" stroke-width="0.45" font-family="Liberation Sans" textLength="11" lengthAdjust="spacingAndGlyphs" transform="translate(483.7 467) rotate(-90)">340</text>
<text x="0" y="0" font-size="7.8" font-weight="bold" text-anchor="middle" dominant-baseline="central" fill="#222" stroke="#222" stroke-width="0.45" font-family="Liberation Sans" textLength="11" lengthAdjust="spacingAndGlyphs" transform="translate(501.3 483.6) rotate(-90)">450</text>
<text x="509.5" y="501" font-size="5.0" font-weight="bold" text-anchor="middle" fill="#222" stroke="#222" stroke-width="0.45" font-family="Liberation Sans" textLength="11" lengthAdjust="spacingAndGlyphs">-----</text>
<text x="514.5" y="507" font-size="5.0" font-weight="bold" text-anchor="middle" fill="#222" stroke="#222" stroke-width="0.45" font-family="Liberation Sans" textLength="20" lengthAdjust="spacingAndGlyphs">plyn. kotel</text>
<text x="506.7" y="512.5" font-size="5.0" font-weight="bold" text-anchor="middle" fill="#222" stroke="#222" stroke-width="0.45" font-family="Liberation Sans" textLength="11" lengthAdjust="spacingAndGlyphs">ohřev</text>
<line x1="471.4" y1="514.5" x2="532.8" y2="514.5" stroke="#222" stroke-width="2.24"/>
<line x1="448.7" y1="518.3" x2="531.7" y2="518.3" stroke="#222" stroke-width="1.82" stroke-dasharray="5 2 1.5 2"/>
<line x1="424.8" y1="510.8" x2="424.8" y2="556.8" stroke="#222" stroke-width="1.40"/>
<path d="M493.2,519.5 A33.6,33.6 0 0 0 526.8,553" fill="none" stroke="#222" stroke-width="1.54"/>
<text x="0" y="0" font-size="7.8" font-weight="bold" text-anchor="middle" dominant-baseline="central" fill="#222" stroke="#222" stroke-width="0.45" font-family="Liberation Sans" textLength="11" lengthAdjust="spacingAndGlyphs" transform="translate(503.7 529.5) rotate(-90)">700</text>
<text x="0" y="0" font-size="7.8" font-weight="bold" text-anchor="middle" dominant-baseline="central" fill="#222" stroke="#222" stroke-width="0.45" font-family="Liberation Sans" textLength="15" lengthAdjust="spacingAndGlyphs" transform="translate(514.3 529.5) rotate(-90)">1970</text>
<line x1="509.6" y1="510.7" x2="509.6" y2="557.8" stroke="#222" stroke-width="1.40"/>
<line x1="525.4" y1="518.3" x2="525.4" y2="552.9" stroke="#222" stroke-width="1.82"/>
<line x1="470.7" y1="541.3" x2="470.7" y2="555.5" stroke="#222" stroke-width="1.40"/>
<text x="483.6" y="548" font-size="8.3" font-weight="bold" text-anchor="middle" fill="#222" stroke="#222" stroke-width="0.45" font-family="Liberation Sans" textLength="16" lengthAdjust="spacingAndGlyphs">1350</text>
<text x="542.6" y="550" font-size="8.3" font-weight="bold" text-anchor="middle" fill="#222" stroke="#222" stroke-width="0.45" font-family="Liberation Sans" textLength="11" lengthAdjust="spacingAndGlyphs">450</text>
<line x1="487.5" y1="465" x2="487.5" y2="659" stroke="#222" stroke-width="1.40"/>
<polyline points="258.9,633 260.5,515 402.4,515" fill="none" stroke="#222" stroke-width="2.24"/>
<line x1="259" y1="549" x2="555.5" y2="553" stroke="#222" stroke-width="1.68"/>
<text x="365.5" y="547.8" font-size="9.1" font-weight="bold" text-anchor="middle" fill="#222" stroke="#222" stroke-width="0.45" font-family="Liberation Sans" textLength="18" lengthAdjust="spacingAndGlyphs">4520</text>
<line x1="258" y1="578.4" x2="534.3" y2="582.4" stroke="#222" stroke-width="1.54"/>
<text x="395.8" y="577.6" font-size="8.3" font-weight="bold" text-anchor="middle" fill="#222" stroke="#222" stroke-width="0.45" font-family="Liberation Sans" textLength="17.3" lengthAdjust="spacingAndGlyphs">5970</text>
<text x="385.5" y="596.5" font-size="12.8" font-weight="normal" text-anchor="middle" fill="#222" stroke="#222" stroke-width="0.6" font-family="Liberation Sans" textLength="25" lengthAdjust="spacingAndGlyphs">2.05</text>
<text x="386.7" y="609.3" font-size="8.3" font-weight="bold" text-anchor="middle" fill="#222" stroke="#222" stroke-width="0.45" font-family="Liberation Sans" textLength="28.5" lengthAdjust="spacingAndGlyphs">s.v.2210</text>
<line x1="258" y1="617.3" x2="368.4" y2="618" stroke="#222" stroke-width="1.40"/>
<line x1="258.9" y1="613" x2="258.9" y2="622" stroke="#222" stroke-width="1.40"/>
<line x1="334.2" y1="613" x2="334.2" y2="622" stroke="#222" stroke-width="1.40"/>
<line x1="352" y1="613" x2="352" y2="622" stroke="#222" stroke-width="1.40"/>
<line x1="367" y1="613" x2="367" y2="622" stroke="#222" stroke-width="1.40"/>
<text x="296.5" y="615.5" font-size="8.3" font-weight="bold" text-anchor="middle" fill="#222" stroke="#222" stroke-width="0.45" font-family="Liberation Sans" textLength="16" lengthAdjust="spacingAndGlyphs">1670</text>
<text x="343.7" y="615.5" font-size="8.3" font-weight="bold" text-anchor="middle" fill="#222" stroke="#222" stroke-width="0.45" font-family="Liberation Sans" textLength="11" lengthAdjust="spacingAndGlyphs">420</text>
<text x="360.2" y="615.5" font-size="8.3" font-weight="bold" text-anchor="middle" fill="#222" stroke="#222" stroke-width="0.45" font-family="Liberation Sans" textLength="11" lengthAdjust="spacingAndGlyphs">240</text>
<text x="345" y="628" font-size="8.3" font-weight="bold" text-anchor="middle" fill="#222" stroke="#222" stroke-width="0.45" font-family="Liberation Sans" textLength="31" lengthAdjust="spacingAndGlyphs">480(940)</text>
<line x1="258.9" y1="632.6" x2="530.8" y2="636.6" stroke="#222" stroke-width="2.52"/>
<rect x="334.2" y="632.6" width="20.1" height="16.3" fill="none" stroke="#222" stroke-width="1.82"/>
<rect x="363.7" y="635.4" width="53.5" height="18.9" fill="none" stroke="#222" stroke-width="1.54"/>
<rect x="364" y="644.6" width="53" height="3.6" fill="#9aa4b0"/>
<line x1="363.7" y1="644.4" x2="417.2" y2="644.4" stroke="#222" stroke-width="1.40"/>
<line x1="363.7" y1="648.6" x2="417.2" y2="648.6" stroke="#222" stroke-width="1.40"/>
<line x1="410.7" y1="635.4" x2="410.7" y2="654.3" stroke="#222" stroke-width="1.40"/>
<line x1="245.9" y1="653.2" x2="550.8" y2="657.8" stroke="#222" stroke-width="2.52"/>
<line x1="417.7" y1="636" x2="417.7" y2="657.8" stroke="#222" stroke-width="1.68"/>
<text x="0" y="0" font-size="7.8" font-weight="bold" text-anchor="middle" dominant-baseline="central" fill="#222" stroke="#222" stroke-width="0.45" font-family="Liberation Sans" textLength="11" lengthAdjust="spacingAndGlyphs" transform="translate(320 640) rotate(-90)">320</text>
<line x1="324.8" y1="633" x2="324.8" y2="650.7" stroke="#222" stroke-width="1.40"/>
<line x1="322.8" y1="635.0" x2="326.8" y2="631.0" stroke="#222" stroke-width="1.40"/>
<line x1="322.8" y1="652.7" x2="326.8" y2="648.7" stroke="#222" stroke-width="1.40"/>
<line x1="409.7" y1="602.4" x2="409.7" y2="668" stroke="#222" stroke-width="2.10" stroke-dasharray="8 3 1.5 3"/>
<text x="394.2" y="682" font-size="9.3" font-weight="bold" text-anchor="middle" fill="#222" stroke="#222" stroke-width="0.45" font-family="Liberation Sans" textLength="6" lengthAdjust="spacingAndGlyphs">B</text>
<line x1="388.4" y1="671" x2="409.7" y2="671" stroke="#222" stroke-width="1.82"/>
<line x1="409.4" y1="668.4" x2="409.4" y2="680.6" stroke="#222" stroke-width="3.22"/>
<text x="0" y="0" font-size="8.3" font-weight="bold" text-anchor="middle" dominant-baseline="central" fill="#222" stroke="#222" stroke-width="0.45" font-family="Liberation Sans" textLength="16" lengthAdjust="spacingAndGlyphs" transform="translate(481.3 571.8) rotate(-90)">3500</text>
<text x="0" y="0" font-size="8.3" font-weight="bold" text-anchor="middle" dominant-baseline="central" fill="#222" stroke="#222" stroke-width="0.45" font-family="Liberation Sans" textLength="11" lengthAdjust="spacingAndGlyphs" transform="translate(481.3 647.2) rotate(-90)">450</text>
<line x1="503.7" y1="563.6" x2="503.7" y2="639" stroke="#222" stroke-width="1.40"/>
<text x="0" y="0" font-size="8.3" font-weight="bold" text-anchor="middle" dominant-baseline="central" fill="#222" stroke="#222" stroke-width="0.45" font-family="Liberation Sans" textLength="16" lengthAdjust="spacingAndGlyphs" transform="translate(499 578.9) rotate(-90)">2570</text>
<line x1="507.2" y1="567" x2="534.3" y2="567" stroke="#222" stroke-width="1.40"/>
<text x="521.3" y="564.5" font-size="8.3" font-weight="bold" text-anchor="middle" fill="#222" stroke="#222" stroke-width="0.45" font-family="Liberation Sans" textLength="11" lengthAdjust="spacingAndGlyphs">500</text>
<line x1="530.8" y1="554" x2="530.8" y2="636.6" stroke="#222" stroke-width="1.82"/>
<text x="0" y="0" font-size="7.8" font-weight="bold" text-anchor="middle" dominant-baseline="central" fill="#222" stroke="#222" stroke-width="0.45" font-family="Liberation Sans" textLength="11" lengthAdjust="spacingAndGlyphs" transform="translate(514.3 622.5) rotate(-90)">810</text>
<line x1="520.2" y1="608.3" x2="520.2" y2="639" stroke="#222" stroke-width="1.40"/>
<line x1="518.2" y1="612.0" x2="522.2" y2="608.0" stroke="#222" stroke-width="1.40"/>
<line x1="555.8" y1="317.7" x2="551.2" y2="657.5" stroke="#222" stroke-width="2.10"/>
<line x1="530.8" y1="609.5" x2="550.8" y2="609.5" stroke="#222" stroke-width="1.68"/>
<line x1="543" y1="555.3" x2="543" y2="609.5" stroke="#222" stroke-width="3.22"/>
<line x1="535.5" y1="457.3" x2="555" y2="457.3" stroke="#222" stroke-width="1.96"/>
<line x1="535.5" y1="499.8" x2="554" y2="499.8" stroke="#222" stroke-width="2.52"/>
<line x1="535.5" y1="385.6" x2="555" y2="385.6" stroke="#222" stroke-width="1.96"/>
<line x1="535.5" y1="411.8" x2="555" y2="411.8" stroke="#222" stroke-width="1.96"/>
<line x1="535.5" y1="430.7" x2="555" y2="430.7" stroke="#222" stroke-width="1.68"/>
<line x1="545" y1="430.7" x2="545" y2="457.3" stroke="#222" stroke-width="3.22"/>
<line x1="546.6" y1="385.6" x2="546.6" y2="411.8" stroke="#222" stroke-width="3.22"/>
<line x1="598.7" y1="212.9" x2="592" y2="659.9" stroke="#222" stroke-width="1.54"/>
<line x1="620.4" y1="318.8" x2="615.5" y2="659.9" stroke="#222" stroke-width="1.54"/>
<line x1="587.8" y1="212.9" x2="603.5" y2="212.9" stroke="#222" stroke-width="1.54"/>
<line x1="596.7" y1="214.9" x2="600.7" y2="210.9" stroke="#222" stroke-width="1.40"/>
<line x1="585.4" y1="318.8" x2="602.3" y2="318.8" stroke="#222" stroke-width="1.54"/>
<line x1="595.2" y1="320.8" x2="599.2" y2="316.8" stroke="#222" stroke-width="1.40"/>
<line x1="585" y1="387.4" x2="598" y2="387.4" stroke="#222" stroke-width="1.54"/>
<line x1="594.7" y1="389.4" x2="598.7" y2="385.4" stroke="#222" stroke-width="1.40"/>
<line x1="585" y1="411.5" x2="598" y2="411.5" stroke="#222" stroke-width="1.54"/>
<line x1="594.3" y1="413.5" x2="598.3" y2="409.5" stroke="#222" stroke-width="1.40"/>
<line x1="585" y1="430.7" x2="598" y2="430.7" stroke="#222" stroke-width="1.54"/>
<line x1="594.0" y1="432.7" x2="598.0" y2="428.7" stroke="#222" stroke-width="1.40"/>
<line x1="583" y1="456.5" x2="598" y2="456.5" stroke="#222" stroke-width="1.54"/>
<line x1="593.6" y1="458.5" x2="597.6" y2="454.5" stroke="#222" stroke-width="1.40"/>
<line x1="582" y1="561.2" x2="598" y2="561.2" stroke="#222" stroke-width="1.54"/>
<line x1="592.2" y1="563.2" x2="596.2" y2="559.2" stroke="#222" stroke-width="1.40"/>
<line x1="583" y1="615.4" x2="597" y2="615.4" stroke="#222" stroke-width="1.54"/>
<line x1="591.3" y1="617.4" x2="595.3" y2="613.4" stroke="#222" stroke-width="1.40"/>
<line x1="580" y1="659.9" x2="598" y2="659.9" stroke="#222" stroke-width="1.54"/>
<line x1="590.0" y1="661.9" x2="594.0" y2="657.9" stroke="#222" stroke-width="1.40"/>
<line x1="609.5" y1="318.8" x2="625" y2="318.8" stroke="#222" stroke-width="1.54"/>
<line x1="618.4" y1="320.8" x2="622.4" y2="316.8" stroke="#222" stroke-width="1.40"/>
<line x1="604" y1="659.9" x2="620" y2="659.9" stroke="#222" stroke-width="1.54"/>
<line x1="613.5" y1="661.9" x2="617.5" y2="657.9" stroke="#222" stroke-width="1.40"/>
<text x="0" y="0" font-size="8.3" font-weight="bold" text-anchor="middle" dominant-baseline="central" fill="#222" stroke="#222" stroke-width="0.45" font-family="Liberation Sans" textLength="16" lengthAdjust="spacingAndGlyphs" transform="translate(592.7 265.8) rotate(-90)">2310</text>
<text x="0" y="0" font-size="8.3" font-weight="bold" text-anchor="middle" dominant-baseline="central" fill="#222" stroke="#222" stroke-width="0.45" font-family="Liberation Sans" textLength="16" lengthAdjust="spacingAndGlyphs" transform="translate(591.4 353.7) rotate(-90)">1480</text>
<text x="0" y="0" font-size="7.8" font-weight="bold" text-anchor="middle" dominant-baseline="central" fill="#222" stroke="#222" stroke-width="0.45" font-family="Liberation Sans" textLength="11" lengthAdjust="spacingAndGlyphs" transform="translate(593 399.4) rotate(-90)">560</text>
<text x="0" y="0" font-size="7.8" font-weight="bold" text-anchor="middle" dominant-baseline="central" fill="#222" stroke="#222" stroke-width="0.45" font-family="Liberation Sans" textLength="36" lengthAdjust="spacingAndGlyphs" transform="translate(600.9 401.5) rotate(-90)">570(1600)</text>
<text x="0" y="0" font-size="7.8" font-weight="bold" text-anchor="middle" dominant-baseline="central" fill="#222" stroke="#222" stroke-width="0.45" font-family="Liberation Sans" textLength="11" lengthAdjust="spacingAndGlyphs" transform="translate(590 421) rotate(-90)">430</text>
<text x="0" y="0" font-size="7.8" font-weight="bold" text-anchor="middle" dominant-baseline="central" fill="#222" stroke="#222" stroke-width="0.45" font-family="Liberation Sans" textLength="11" lengthAdjust="spacingAndGlyphs" transform="translate(589.7 445) rotate(-90)">560</text>
<text x="0" y="0" font-size="7.8" font-weight="bold" text-anchor="middle" dominant-baseline="central" fill="#222" stroke="#222" stroke-width="0.45" font-family="Liberation Sans" textLength="34.8" lengthAdjust="spacingAndGlyphs" transform="translate(600.8 445.4) rotate(-90)">570(1600)</text>
<text x="0" y="0" font-size="8.3" font-weight="bold" text-anchor="middle" dominant-baseline="central" fill="#222" stroke="#222" stroke-width="0.45" font-family="Liberation Sans" textLength="16" lengthAdjust="spacingAndGlyphs" transform="translate(612 489) rotate(-90)">7460</text>
<text x="0" y="0" font-size="8.3" font-weight="bold" text-anchor="middle" dominant-baseline="central" fill="#222" stroke="#222" stroke-width="0.45" font-family="Liberation Sans" textLength="16" lengthAdjust="spacingAndGlyphs" transform="translate(589 509.4) rotate(-90)">2260</text>
<text x="0" y="0" font-size="8.3" font-weight="bold" text-anchor="middle" dominant-baseline="central" fill="#222" stroke="#222" stroke-width="0.45" font-family="Liberation Sans" textLength="16" lengthAdjust="spacingAndGlyphs" transform="translate(588 588.3) rotate(-90)">1200</text>
<text x="0" y="0" font-size="8.3" font-weight="bold" text-anchor="middle" dominant-baseline="central" fill="#222" stroke="#222" stroke-width="0.45" font-family="Liberation Sans" textLength="35" lengthAdjust="spacingAndGlyphs" transform="translate(598.7 588.5) rotate(-90)">1200(900)</text>
<text x="0" y="0" font-size="8.3" font-weight="bold" text-anchor="middle" dominant-baseline="central" fill="#222" stroke="#222" stroke-width="0.45" font-family="Liberation Sans" textLength="11" lengthAdjust="spacingAndGlyphs" transform="translate(585.4 637) rotate(-90)">960</text>
<text x="578.2" y="489.5" font-size="7.8" font-weight="bold" text-anchor="middle" fill="#222" stroke="#222" stroke-width="0.45" font-family="Liberation Sans" textLength="5" lengthAdjust="spacingAndGlyphs">A</text>
<line x1="572.9" y1="479.3" x2="572.9" y2="501" stroke="#222" stroke-width="3.22"/>
<line x1="567.3" y1="500.5" x2="581.8" y2="500.5" stroke="#222" stroke-width="2.10"/>
<circle cx="559.4" cy="500.5" r="0.8" fill="#333" stroke="#222" stroke-width="0.00"/>
<line x1="361" y1="694.8" x2="552.2" y2="697.2" stroke="#222" stroke-width="1.54"/>
<line x1="363.5" y1="683.6" x2="363.5" y2="698.7" stroke="#222" stroke-width="1.54"/>
<line x1="416.8" y1="683.6" x2="416.8" y2="700" stroke="#222" stroke-width="1.54"/>
<line x1="550" y1="686" x2="550" y2="703" stroke="#222" stroke-width="1.54"/>
<line x1="361.5" y1="697.0" x2="365.5" y2="693.0" stroke="#222" stroke-width="1.40"/>
<line x1="414.8" y1="697.7" x2="418.8" y2="693.7" stroke="#222" stroke-width="1.40"/>
<line x1="548.0" y1="699.2" x2="552.0" y2="695.2" stroke="#222" stroke-width="1.40"/>
<text x="389.7" y="692" font-size="8.3" font-weight="bold" text-anchor="middle" fill="#222" stroke="#222" stroke-width="0.45" font-family="Liberation Sans" textLength="16" lengthAdjust="spacingAndGlyphs">1170</text>
<text x="389.7" y="704" font-size="8.3" font-weight="bold" text-anchor="middle" fill="#222" stroke="#222" stroke-width="0.45" font-family="Liberation Sans" textLength="34" lengthAdjust="spacingAndGlyphs">1170(980)</text>
<text x="483" y="694" font-size="8.3" font-weight="bold" text-anchor="middle" fill="#222" stroke="#222" stroke-width="0.45" font-family="Liberation Sans" textLength="16" lengthAdjust="spacingAndGlyphs">2920</text>
</svg>
</body></html>
